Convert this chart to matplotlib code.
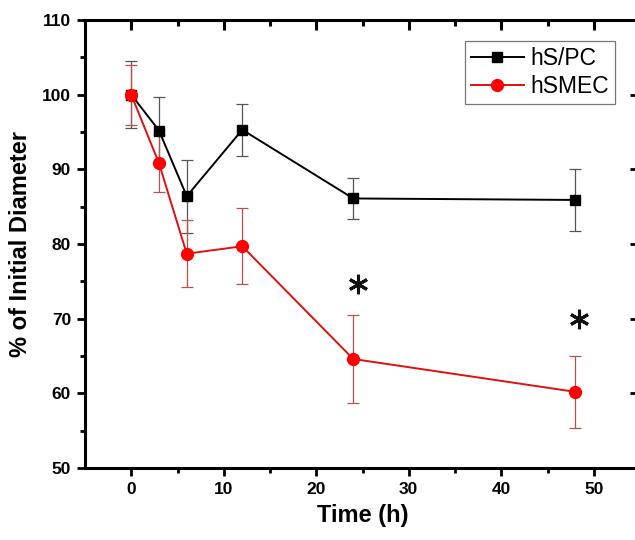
import matplotlib
matplotlib.use("Agg")
import matplotlib.pyplot as plt
from matplotlib.lines import Line2D

plt.rcParams['font.family'] = ['Liberation Sans', 'DejaVu Sans']

time = [0, 3, 6, 12, 24, 48]
hspc = [100, 95.2, 86.4, 95.3, 86.1, 85.9]
hspc_err = [4.5, 4.5, 4.9, 3.5, 2.8, 4.2]
hsmec = [100, 90.8, 78.7, 79.7, 64.6, 60.2]
hsmec_err = [4.0, 3.8, 4.5, 5.1, 5.9, 4.8]
star_x = [24.5, 48.4]
star_y = [74.6, 69.9]
x_major = [0, 10, 20, 30, 40, 50]
x_minor = [5, 15, 25, 35, 45]
y_major = [50, 60, 70, 80, 90, 100, 110]
y_minor = [55, 65, 75, 85, 95, 105]

fig = plt.figure(figsize=(6.35, 5.4), dpi=100)
rect = [85/635, (540-468)/540, (640-85)/635, (468-20)/540]
ax = fig.add_axes(rect)

black = 'black'
red = '#ff0000'
ax.errorbar(time, hspc, yerr=hspc_err, color=black, marker='s', markersize=7,
            linewidth=1.4, ecolor='#555555', elinewidth=0.9, capsize=4, capthick=0.9,
            zorder=3)
ax.errorbar(time, hsmec, yerr=hsmec_err, color='#e01010', marker='o', markersize=8.5,
            markerfacecolor=red, markeredgecolor=red,
            linewidth=1.4, ecolor='#b85050', elinewidth=0.9, capsize=4, capthick=0.9,
            zorder=3)

ax.plot(star_x, star_y, linestyle='none', marker=(6, 2, 0), markersize=14,
        markeredgewidth=2.2, color='#111111', zorder=4)

ax.set_xlim(-5, 55)
ax.set_ylim(50, 110)
ax.set_xticks(x_major)
ax.set_xticks(x_minor, minor=True)
ax.set_yticks(y_major)
ax.set_yticks(y_minor, minor=True)

for s in ax.spines.values():
    s.set_linewidth(2.2)

ax.tick_params(axis='both', which='major', direction='out', length=6, width=2,
               labelsize=12.5, pad=4)
ax.tick_params(axis='both', which='minor', direction='out', length=3.5, width=2)

# mirrored ticks (inward) on top and right via an overlay axes
ov = fig.add_axes(rect, frameon=False)
ov.set_xlim(-5, 55)
ov.set_ylim(50, 110)
ov.set_xticks(x_major)
ov.set_xticks(x_minor, minor=True)
ov.set_yticks(y_major)
ov.set_yticks(y_minor, minor=True)
ov.xaxis.set_ticks_position('top')
ov.yaxis.set_ticks_position('right')
ov.tick_params(which='both', direction='in', labeltop=False, labelright=False)
ov.tick_params(which='major', length=7, width=2)
ov.tick_params(axis='x', which='major', length=7, width=2.2)
ov.tick_params(axis='x', which='minor', length=4.5, width=2.2)
ov.tick_params(axis='y', which='minor', length=2, width=1)
ov.patch.set_visible(False)

for lbl in ax.get_xticklabels() + ax.get_yticklabels():
    lbl.set_fontweight('bold')

ax.set_xlabel('Time (h)', fontsize=17, fontweight='bold', labelpad=5)
ax.set_ylabel('% of Initial Diameter', fontsize=17, fontweight='bold', labelpad=7)

handles = [
    Line2D([], [], color=black, marker='s', markersize=7, linewidth=1.4),
    Line2D([], [], color='#e01010', marker='o', markersize=8.5,
           markerfacecolor=red, markeredgecolor=red, linewidth=1.4),
]
leg = ov.legend(handles, ['hS/PC', 'hSMEC'], loc='upper right',
                bbox_to_anchor=(615/635, (540-41)/540),
                bbox_transform=fig.transFigure, fontsize=16.5, frameon=True,
                fancybox=False, edgecolor='#555555', handlelength=2.3,
                borderpad=0.25, labelspacing=0.22, handletextpad=0.3,
                borderaxespad=0)
leg.get_frame().set_linewidth(0.9)
leg.set_zorder(10)

fig.savefig('out.png', dpi=100)
